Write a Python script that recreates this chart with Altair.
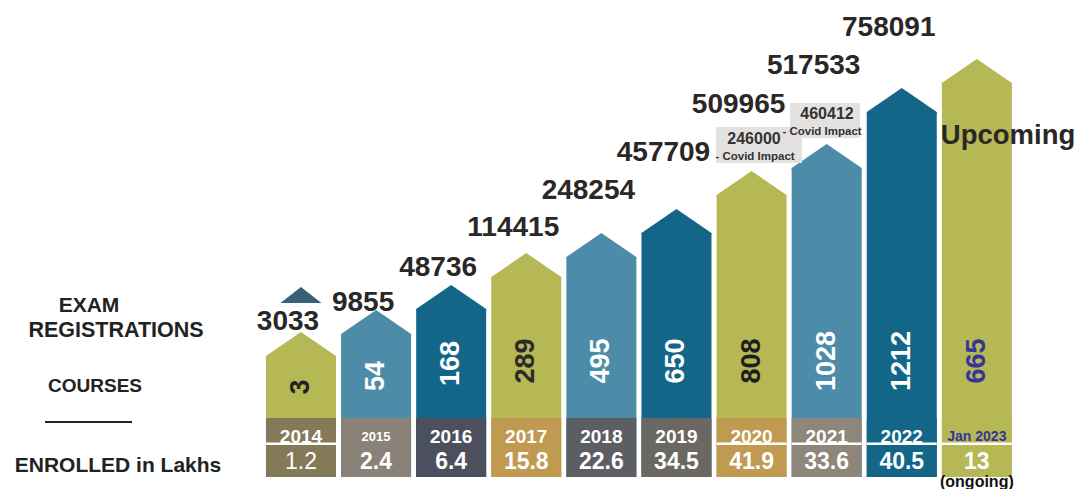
import altair as alt
import pandas as pd

# ---------------- data ----------------
years = ["2014", "2015", "2016", "2017", "2018", "2019", "2020", "2021", "2022", "Jan 2023"]
registrations = [3033, 9855, 48736, 114415, 248254, 457709, 509965, 517533, 758091]
upcoming_text = "Upcoming"
courses = [3, 54, 168, 289, 495, 650, 808, 1028, 1212, 665]
enrolled = ["1.2", "2.4", "6.4", "15.8", "22.6", "34.5", "41.9", "33.6", "40.5", "13"]
# height of each arrow body (shoulder level) and of each registration label
bar_levels = [121, 143, 168, 200, 220, 244, 282, 309, 365, 394]
label_levels = [155, 174, 209, 249, 286, 324, 372, 411, 449, 341]
covid_values = [246000, 460412]
divider_years = ["2014", "2020", "2021", "2022", "Jan 2023"]

# ---------------- styles ----------------
FONT = "Liberation Sans"
OLIVE, LTEAL, DTEAL = "#b5b854", "#4d8ca8", "#136688"
bar_palette = [OLIVE, LTEAL, DTEAL] * 3 + [OLIVE]
band_palette = ["#857a57", "#8a8279", "#4c505e", "#c09a50", "#5d5e64",
                "#6b6763", "#c09a50", "#8e857b", DTEAL, OLIVE]
course_colors = ["#222222", "#ffffff", "#ffffff", "#2a2a2a", "#ffffff",
                 "#ffffff", "#1e1e1e", "#ffffff", "#ffffff", "#34349a"]
year_colors = ["#ffffff"] * 9 + ["#34349a"]
year_sizes = [19, 13, 19, 19, 19, 19, 19, 19, 19, 14]
TEXT_DARK = "#2b2727"

df = pd.DataFrame({
    "idx": list(range(len(years))),
    "year": years,
    "level": bar_levels,
    "courses": courses,
    "enrolled": enrolled,
    "label_level": label_levels,
    "reg": [str(v) for v in registrations] + [upcoming_text],
    "bar_color": bar_palette,
    "band_color": band_palette,
    "course_color": course_colors,
    "year_color": year_colors,
    "year_size": year_sizes,
})

W, H = 1071, 481
xs = alt.Scale(domain=[-3.901, 10.360], nice=False, zero=False)
ys = alt.Scale(domain=[-12, 469], nice=False, zero=False)
HALF = 0.466

base = alt.Chart(df).transform_calculate(
    x0=f"datum.idx - {HALF}", x1=f"datum.idx + {HALF}",
    band_top="59", zero="0", div_lo="32", div_hi="34.5",
    year_y="40", enr_y="15.5", ongoing_y="-4.5",
    cy="min((datum.level + 59) / 2, 116)",
)
XI = alt.X("idx:Q", scale=xs, axis=None)
X0 = alt.X("x0:Q", scale=xs, axis=None)
X1 = alt.X2("x1:Q")


def Y(f):
    return alt.Y(f, scale=ys, axis=None)


bars = base.mark_rect().encode(
    x=X0, x2=X1, y=Y("level:Q"), y2=alt.Y2("zero:Q"),
    color=alt.Color("bar_color:N", scale=None),
)

APEX = "M-1,0.04L-1,0L0,-0.686L1,0L1,0.04Z"
apex = base.mark_point(shape=APEX, size=4900, filled=True, opacity=1, strokeWidth=0).encode(
    x=XI, y=Y("level:Q"), color=alt.Color("bar_color:N", scale=None),
)

bands = base.mark_rect().encode(
    x=X0, x2=X1, y=Y("band_top:Q"), y2=alt.Y2("zero:Q"),
    color=alt.Color("band_color:N", scale=None),
)

dividers = base.transform_filter(
    alt.FieldOneOfPredicate(field="year", oneOf=divider_years)
).mark_rect(color="#ffffff").encode(
    x=X0, x2=X1, y=Y("div_hi:Q"), y2=alt.Y2("div_lo:Q"),
)

small_tri = base.transform_filter(alt.datum.year == "2014").mark_point(
    shape="M-1,0L0,-0.78L1,0Z", size=1681, filled=True, opacity=1, strokeWidth=0, color="#3b5f74"
).encode(x=XI, y=alt.value(295))

course_text = base.mark_text(angle=270, fontSize=27, fontWeight="bold", font=FONT,
                             align="center", baseline="middle").encode(
    x=XI, y=Y("cy:Q"), text="courses:Q",
    color=alt.Color("course_color:N", scale=None),
)

reg_text = base.transform_filter(alt.datum.year != "Jan 2023").mark_text(
    fontSize=28, fontWeight="bold", font=FONT, align="center", baseline="middle", dx=-13, color=TEXT_DARK
).encode(x=XI, y=Y("label_level:Q"), text="reg:N")

upcoming = base.transform_filter(alt.datum.year == "Jan 2023").mark_text(
    fontSize=27.5, fontWeight="bold", font=FONT, align="left", baseline="middle", dx=-36, color=TEXT_DARK
).encode(x=XI, y=Y("label_level:Q"), text="reg:N")

year_text = base.mark_text(fontWeight="bold", font=FONT, align="center", baseline="middle").encode(
    x=XI, y=Y("year_y:Q"), text="year:N",
    size=alt.Size("year_size:Q", scale=None),
    color=alt.Color("year_color:N", scale=None),
)

enr_first = base.transform_filter(alt.datum.year == "2014").mark_text(
    fontSize=23, fontWeight="normal", font=FONT, align="center", baseline="middle", color="#ffffff"
).encode(x=XI, y=Y("enr_y:Q"), text="enrolled:N")

enr_rest = base.transform_filter(alt.datum.year != "2014").mark_text(
    fontSize=23, fontWeight="bold", font=FONT, align="center", baseline="middle", color="#ffffff"
).encode(x=XI, y=Y("enr_y:Q"), text="enrolled:N")

ongoing = base.transform_filter(alt.datum.year == "Jan 2023").mark_text(
    text="(ongoing)", fontSize=16, fontWeight="bold", font=FONT, align="center", baseline="middle", color="#111111"
).encode(x=XI, y=Y("ongoing_y:Q"))

# covid annotation boxes (values from the covid_values list)
cov = alt.Data(values=[{"v": str(v)} for v in covid_values])
one = alt.Data(values=[{"k": 1}])

box1 = alt.Chart(one).mark_rect(color="#e4e1e1").encode(
    x=alt.value(708), x2=alt.value(794), y=alt.value(119), y2=alt.value(155))
box2 = alt.Chart(one).mark_rect(color="#e4e1e1").encode(
    x=alt.value(782), x2=alt.value(852), y=alt.value(95), y2=alt.value(130))


def cov_text(i, x, y):
    return alt.Chart(cov).transform_window(r="row_number()").transform_filter(
        f"datum.r == {i + 1}").mark_text(fontSize=16, fontWeight="bold", font=FONT, color="#333333",
                                       align="center", baseline="middle").encode(
        x=alt.value(x), y=alt.value(y), text="v:N")


def note(x, y):
    return alt.Chart(one).mark_text(text="- Covid Impact", fontSize=11.5, fontWeight="bold", font=FONT,
                                    color="#333333", align="center", baseline="middle").encode(
        x=alt.value(x), y=alt.value(y))


cv1 = cov_text(0, 746, 131)
cn1 = note(747, 149)
cv2 = cov_text(1, 819, 106)
cn2 = note(814, 124)


def title(txt, x, y, size):
    return alt.Chart(one).mark_text(text=txt, fontSize=size, fontWeight="bold", font=FONT,
                                    color="#222222", align="center", baseline="middle").encode(
        x=alt.value(x), y=alt.value(y))


t_exam = title("EXAM", 81, 298, 21)
t_reg = title("REGISTRATIONS", 108, 323, 21.5)
t_courses = title("COURSES", 87, 378, 19)
t_enr = title("ENROLLED in Lakhs", 110, 458, 21)
t_line = alt.Chart(one).mark_rect(color="#222222").encode(
    x=alt.value(37), x2=alt.value(124), y=alt.value(413), y2=alt.value(415))

chart = alt.layer(
    bars, apex, bands, dividers, small_tri, course_text, box1, box2, cv1, cn1, cv2, cn2,
    reg_text, upcoming, year_text, enr_first, enr_rest, ongoing,
    t_exam, t_reg, t_courses, t_enr, t_line,
).properties(
    width=W, height=H, padding=0, autosize="none", background="white"
).configure_view(stroke=None)

chart.save("out.html", embed_options={"renderer": "svg", "actions": False})
